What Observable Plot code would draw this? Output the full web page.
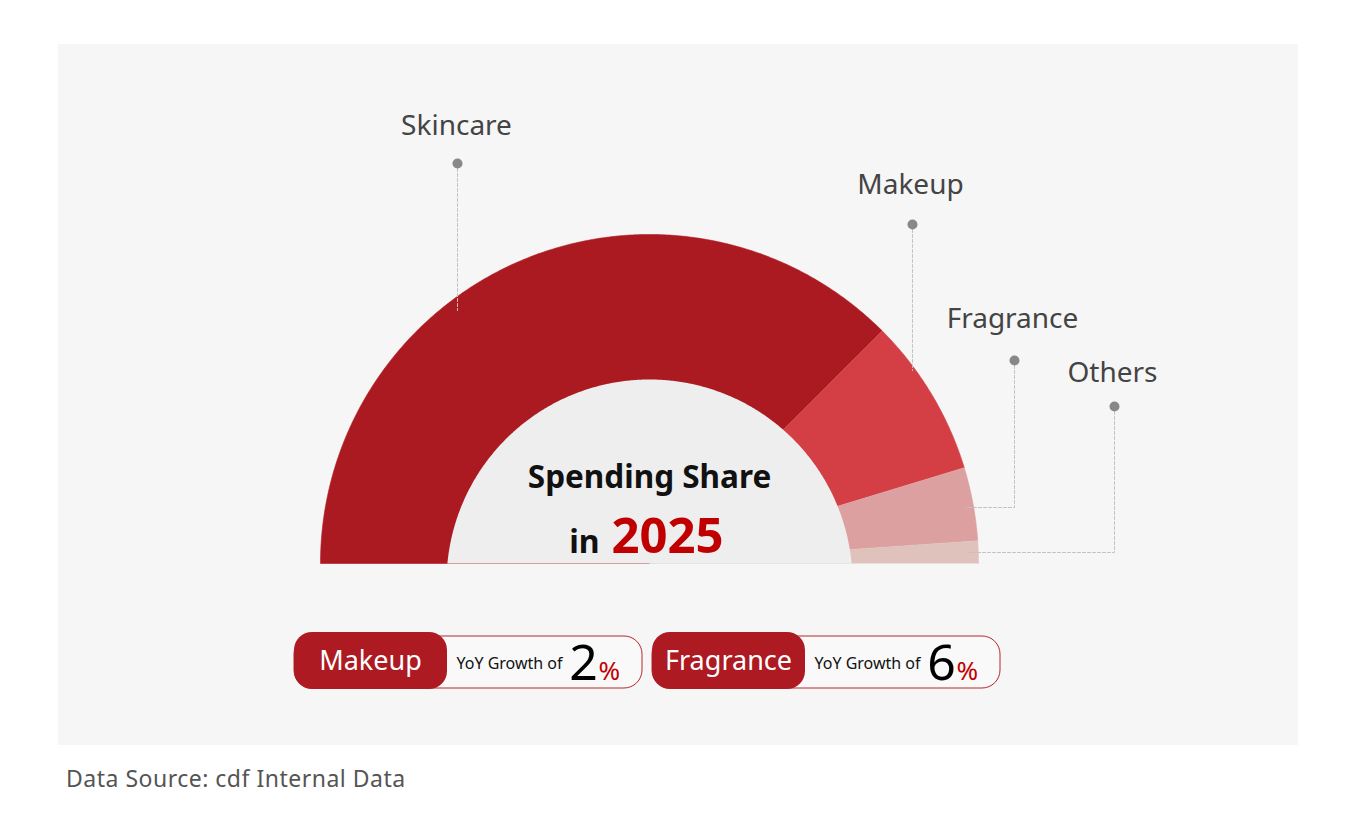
<!DOCTYPE html>
<html><head><meta charset="utf-8">
<script src="https://cdn.jsdelivr.net/npm/d3@7"></script>
<script src="https://cdn.jsdelivr.net/npm/@observablehq/plot@0.6"></script>
<style>
html,body{margin:0;padding:0;background:#fff;}
body{width:1360px;height:830px;position:relative;font-family:"Noto Sans",sans-serif;overflow:hidden;}
#panel{position:absolute;left:58px;top:44px;width:1240px;height:701px;background:#f6f6f6;}
#panel svg{display:block;}
#caption{position:absolute;left:66px;top:763px;font-size:23px;color:#555;line-height:30px;letter-spacing:0.5px;}
</style></head><body>
<div id="panel"></div>
<div id="caption">Data Source: cdf Internal Data</div>
<script>
// ---- data ----
const categories = ["Skincare", "Makeup", "Fragrance", "Others"];
const shares = [75.0, 15.6, 7.2, 2.2];
const sliceColors = ["#ac1a21", "#d33f44", "#dda0a0", "#dfc2bc"];
const titleLine1 = "Spending Share";
const titlePrefix = "in";
const titleYear = "2025";
const growthCategories = ["Makeup", "Fragrance"];
const growthValues = [2, 6];
const growthLabel = "YoY Growth of";

// ---- layout (pixel offsets relative to the chart centre) ----
const W = 1240, H = 701, panelLeft = 58, panelTop = 44, cx0 = 649, cy0 = 563;
const R_OUT = 329, R_HOLE = 203, HOLE_DROP = 19;
const leaderLayout = {
  Skincare:  {label: [-193, 429], pts: [[-192, 400], [-192, 253]]},
  Makeup:    {label: [261, 370],  pts: [[263, 339], [263, 193]]},
  Fragrance: {label: [363, 236],  pts: [[365, 203], [365, 56], [316, 56]]},
  Others:    {label: [463, 182],  pts: [[465, 157], [465, 11], [318, 11]]}
};
const badgeX = [-355, 3];

// ---- geometry built from data ----
const total = d3.sum(shares);
let cum = 0;
const slices = [];
categories.forEach((c, i) => {
  const a0 = Math.PI * (1 - cum / total);
  cum += shares[i];
  const a1 = Math.PI * (1 - cum / total);
  const n = Math.max(2, Math.ceil((a0 - a1) / Math.PI * 360));
  slices.push({cat: c, x: 0, y: 0});
  for (let k = 0; k <= n; k++) { const a = a0 + (a1 - a0) * k / n; slices.push({cat: c, x: R_OUT * Math.cos(a), y: R_OUT * Math.sin(a)}); }
});
// grey centre disc (slightly lower centre), clipped at the base line
const t0 = Math.asin(HOLE_DROP / R_HOLE);
const hole = d3.range(0, 361).map(k => {
  const a = t0 + (Math.PI - 2 * t0) * k / 360;
  return {x: R_HOLE * Math.cos(a), y: -HOLE_DROP + R_HOLE * Math.sin(a)};
});

const labels = categories.map(c => ({cat: c, x: leaderLayout[c].label[0], y: leaderLayout[c].label[1]}));
const dots = categories.map(c => ({cat: c, x: leaderLayout[c].pts[0][0], y: leaderLayout[c].pts[0][1]}));
const leaders = categories.flatMap(c => leaderLayout[c].pts.map(p => ({cat: c, x: p[0], y: p[1]})));

const badges = growthCategories.map((c, i) => ({cat: c, value: growthValues[i], bx: badgeX[i]}));

const plot = Plot.plot({
  width: W, height: H, margin: 0,
  x: {domain: [panelLeft - cx0, panelLeft + W - cx0], axis: null},
  y: {domain: [cy0 - (panelTop + H), cy0 - panelTop], axis: null},
  color: {domain: categories, range: sliceColors},
  style: {background: "transparent", fontFamily: "'Noto Sans', sans-serif", overflow: "visible"},
  marks: [
    Plot.line(slices, {x: "x", y: "y", z: "cat", fill: "cat", stroke: "cat", strokeWidth: 0.6, curve: "linear"}),
    Plot.line(hole, {x: "x", y: "y", fill: "#eeeeee", stroke: "none"}),
    Plot.line(leaders, {x: "x", y: "y", z: "cat", stroke: "#c2c2c2", strokeWidth: 1, strokeDasharray: "3,2"}),
    Plot.dot(dots, {x: "x", y: "y", r: 5, fill: "#888888", stroke: "none"}),
    Plot.text(labels, {x: "x", y: "y", text: "cat", fontSize: 28, fill: "#444", lineAnchor: "bottom", textAnchor: "middle"}),
    Plot.text([titleLine1], {x: 0, y: 76, text: d => d, fontSize: 31.5, fontWeight: "bold", fill: "#111", lineAnchor: "bottom", textAnchor: "middle"}),
    Plot.text([titlePrefix], {x: -50, y: 11, text: d => d, fontSize: 32, fontWeight: "bold", fill: "#111", lineAnchor: "bottom", textAnchor: "end"}),
    Plot.text([titleYear], {x: -38, y: 11, text: d => d, fontSize: 49, fontWeight: "bold", fill: "#c00000", lineAnchor: "bottom", textAnchor: "start"}),
    // badges
    Plot.rect(badges, {x1: d => d.bx, x2: d => d.bx + 348, y1: -73, y2: -125, rx: 18, fill: "#f9f9f9", stroke: "#b8262c", strokeWidth: 1}),
    Plot.rect(badges, {x1: d => d.bx, x2: d => d.bx + 153, y1: -69, y2: -126, rx: 18, fill: "#ad1a21"}),
    Plot.text(badges, {x: d => d.bx + 76, y: -106, text: "cat", fontSize: 27, fill: "#fff", lineAnchor: "bottom", textAnchor: "middle"}),
    Plot.text(badges, {x: d => d.bx + 162, y: -105, text: () => growthLabel, fontSize: 16, fill: "#111", lineAnchor: "bottom", textAnchor: "start"}),
    Plot.text(badges, {x: d => d.bx + 289, y: -116, text: d => String(d.value), fontSize: 50, fill: "#000", lineAnchor: "bottom", textAnchor: "middle"}),
    Plot.text(badges, {x: d => d.bx + 304, y: -116, text: () => "%", fontSize: 26, fill: "#c00000", lineAnchor: "bottom", textAnchor: "start"})
  ]
});
document.getElementById("panel").appendChild(plot);
</script>
</body></html>
